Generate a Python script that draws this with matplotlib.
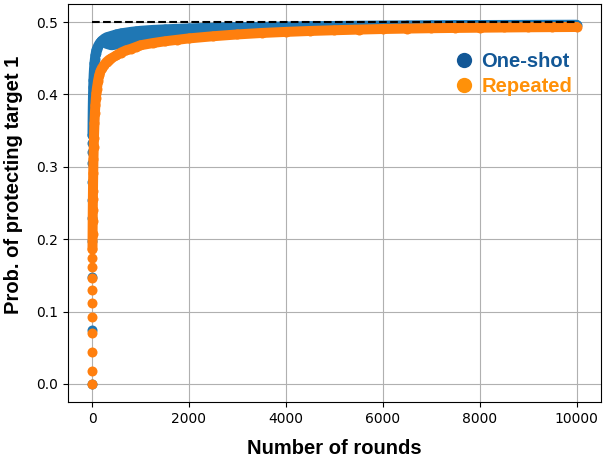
import matplotlib
matplotlib.use('Agg')
import matplotlib.pyplot as plt
from matplotlib.lines import Line2D

rounds = [0, 1, 2, 3, 4, 5, 6, 7, 8, 9, 10, 12, 14, 16, 18, 20, 25, 30, 35, 40,
          50, 60, 70, 80, 90, 100, 125, 150, 175, 200, 250, 300, 350, 400, 500,
          600, 700, 800, 900, 1000, 1250, 1500, 1750, 2000, 2500, 3000, 3500,
          4000, 4500, 5000, 5500, 6000, 6500, 7000, 7500, 8000, 8500, 9000,
          9500, 10000]

# one-shot: upper edge of the blue band
one_shot = [0.000, 0.075, 0.148, 0.197, 0.229, 0.254, 0.279, 0.305, 0.320, 0.333,
            0.344, 0.360, 0.372, 0.382, 0.390, 0.397, 0.410, 0.420, 0.428, 0.434,
            0.443, 0.449, 0.454, 0.458, 0.461, 0.463, 0.467, 0.470, 0.472, 0.474,
            0.477, 0.479, 0.480, 0.481, 0.483, 0.4845, 0.4855, 0.4865, 0.4873, 0.488,
            0.4892, 0.490, 0.4907, 0.4913, 0.4922, 0.493, 0.4935, 0.494, 0.4944, 0.4947,
            0.495, 0.4953, 0.4955, 0.4957, 0.4959, 0.496, 0.4961, 0.4962, 0.4963, 0.4964]

# one-shot spread: lower edge of the blue band (from round 200 on)
low_rounds = [200, 250, 300, 350, 400, 500, 600, 700, 800, 900, 1000, 1250, 1500,
              1750, 2000, 2500, 3000]
one_shot_low = [0.474, 0.472, 0.470, 0.469, 0.468, 0.469, 0.472, 0.474, 0.476, 0.478,
                0.480, 0.483, 0.486, 0.488, 0.490, 0.492, 0.493]

repeated = [0.000, 0.018, 0.044, 0.070, 0.092, 0.112, 0.130, 0.147, 0.161, 0.174,
            0.186, 0.207, 0.225, 0.241, 0.255, 0.267, 0.292, 0.311, 0.327, 0.340,
            0.360, 0.375, 0.386, 0.395, 0.402, 0.408, 0.419, 0.427, 0.432, 0.436,
            0.441, 0.445, 0.448, 0.450, 0.454, 0.458, 0.461, 0.463, 0.4655, 0.468,
            0.471, 0.4735, 0.4755, 0.4775, 0.4805, 0.483, 0.485, 0.4865, 0.4878, 0.4888,
            0.4897, 0.4905, 0.4911, 0.4916, 0.492, 0.4923, 0.4926, 0.4929, 0.4931, 0.4933]

labels = ['One-shot', 'Repeated']
target = 0.5

c_blue = '#1f77b4'
c_orange = '#ff7f0e'
leg_colors = ['#125796', '#ff9109']

fig = plt.figure(figsize=(6.03, 4.59), dpi=100)
ax = fig.add_axes([0.1124, 0.1242, 0.884, 0.867])
ax.set_axisbelow(True)
ax.grid(True, color='#b0b0b0', lw=0.8)

ms = 7.2
# dots first, then a line of the same width where the dots overlap anyway
k = rounds.index(10)
hi_part = one_shot[rounds.index(low_rounds[0]):rounds.index(low_rounds[-1]) + 1]
ax.fill_between(low_rounds, one_shot_low, hi_part, color=c_blue, lw=0)
ax.plot(low_rounds, one_shot_low, '-', color=c_blue, lw=ms, solid_capstyle='round')
ax.plot(rounds[k:], one_shot[k:], '-', color=c_blue, lw=ms, solid_capstyle='round')
ax.plot(rounds, one_shot, 'o', color=c_blue, ms=ms, mew=0)
ax.plot(rounds[k:], repeated[k:], '-', color=c_orange, lw=ms, solid_capstyle='round')
ax.plot(rounds, repeated, 'o', color=c_orange, ms=ms, mew=0)
ax.plot([rounds[0], rounds[-1]], [target, target], '--', color='black', lw=1.5)

ax.set_xlim(-500, 10500)
ax.set_ylim(-0.025, 0.525)
ax.set_xticks([0, 2000, 4000, 6000, 8000, 10000])
ax.set_yticks([0.0, 0.1, 0.2, 0.3, 0.4, 0.5])
ax.tick_params(labelsize=10)

ax.set_xlabel('Number of rounds', fontsize=14.5, fontweight='bold',
              family='Liberation Sans')
ax.set_ylabel('Prob. of protecting target 1', fontsize=14.5, fontweight='bold',
              family='Liberation Sans')
ax.xaxis.set_label_coords(0.5, -0.093)
ax.yaxis.set_label_coords(-0.084, 0.545)

handles = [Line2D([], [], ls='', marker='o', ms=11, color=c, mew=0) for c in leg_colors]
leg = ax.legend(handles, labels, loc='upper left', bbox_to_anchor=(0.71, 0.905),
                frameon=False, handlelength=0.8, handletextpad=0.45, labelspacing=0.32,
                borderpad=0, prop={'family': 'Liberation Sans', 'weight': 'bold', 'size': 14.5})
for t, c in zip(leg.get_texts(), leg_colors):
    t.set_color(c)

fig.savefig('out.png', dpi=100)
